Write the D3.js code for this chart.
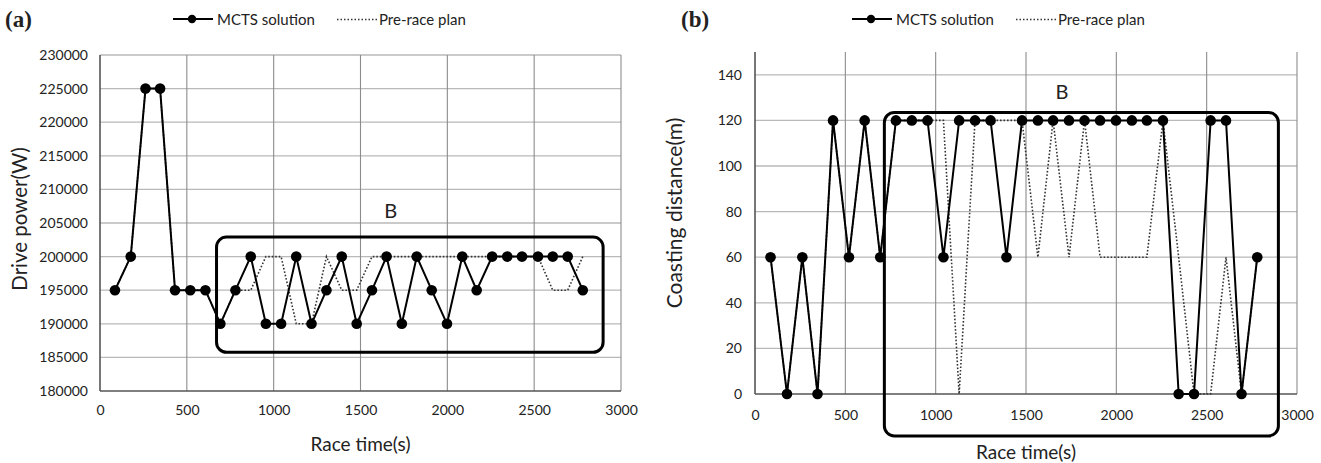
<!DOCTYPE html>
<html>
<head>
<meta charset="utf-8">
<script src="https://cdn.jsdelivr.net/npm/d3@7"></script>
<style>
  html, body { margin: 0; padding: 0; background: #fff; }
  svg { display: block; }
  text { font-family: Lato, "Open Sans", sans-serif; fill: #222; }
</style>
</head>
<body>
<svg id="chart" width="1321" height="463"></svg>
<script>
// Segment end times shared by both panels (s)
const raceTimes = [86, 177, 262, 346, 432, 520, 607, 693, 780, 868, 955, 1043, 1130, 1218, 1304, 1392,
                   1478, 1566, 1650, 1738, 1824, 1910, 1998, 2086, 2169, 2258, 2345, 2430, 2522, 2607, 2693, 2780];

// (a) drive power per segment (W)
const powerMcts = [195000, 200000, 225000, 225000, 195000, 195000, 195000, 190000, 195000, 200000, 190000,
                   190000, 200000, 190000, 195000, 200000, 190000, 195000, 200000, 190000, 200000, 195000,
                   190000, 200000, 195000, 200000, 200000, 200000, 200000, 200000, 200000, 195000];
const powerPlan = [195000, 200000, 225000, 225000, 195000, 195000, 195000, 190000, 195000, 195000, 200000,
                   200000, 190000, 190000, 200000, 195000, 195000, 200000, 200000, 200000, 200000, 200000,
                   200000, 200000, 200000, 200000, 200000, 200000, 200000, 195000, 195000, 200000];

// (b) coasting distance per segment (m)
const coastMcts = [60, 0, 60, 0, 120, 60, 120, 60, 120, 120, 120, 60, 120, 120, 120, 60,
                   120, 120, 120, 120, 120, 120, 120, 120, 120, 120, 0, 0, 120, 120, 0, 60];
const coastPlan = [60, 0, 60, 0, 120, 60, 120, 60, 120, 120, 120, 120, 0, 120, 120, 120,
                   120, 60, 120, 60, 120, 60, 60, 60, 60, 120, 60, 0, 0, 60, 0, 60];

// Axis ticks
const timeTicks = [0, 500, 1000, 1500, 2000, 2500, 3000];
const powerTicks = [180000, 185000, 190000, 195000, 200000, 205000, 210000, 215000, 220000, 225000, 230000];
const coastTicks = [0, 20, 40, 60, 80, 100, 120, 140];

// Highlighted region "B": [t0, t1, yLow, yHigh]
const powerRegionB = [671, 2897, 185750, 202900];
const coastRegionB = [716, 2897, -18.4, 123.5];
const powerLabelB = [1674, 207000];
const coastLabelB = [1699, 132.7];

const seriesNames = ["MCTS solution", "Pre-race plan"];

const svg = d3.select("#chart");

function drawPanel(cfg) {
  const g = svg.append("g");
  const x = d3.scaleLinear().domain([0, 3000]).range(cfg.xRange);
  const y = d3.scaleLinear().domain(cfg.yDomain).range(cfg.yRange);
  const [x0, x1] = cfg.xRange;
  const [yb] = cfg.yRange;

  // horizontal grid
  g.append("g").selectAll("line").data(cfg.yTicks.filter(v => v !== cfg.yDomain[0])).join("line")
    .attr("x1", x0).attr("x2", x1)
    .attr("y1", d => y(d)).attr("y2", d => y(d))
    .attr("stroke", "#b9b9b9").attr("stroke-width", 1.3);

  // vertical grid
  g.append("g").selectAll("line").data(timeTicks.filter(v => v > 0)).join("line")
    .attr("x1", d => x(d)).attr("x2", d => x(d))
    .attr("y1", yb).attr("y2", cfg.gridTop)
    .attr("stroke", "#8c8c8c").attr("stroke-width", 1.1);

  // tick labels from d3 axis generators
  const xAxis = g.append("g").attr("transform", `translate(0,${yb})`)
    .call(d3.axisBottom(x).tickValues(timeTicks).tickSize(0).tickPadding(cfg.xPad).tickFormat(d3.format("d")));
  const yAxis = g.append("g").attr("transform", `translate(${x0},0)`)
    .call(d3.axisLeft(y).tickValues(cfg.yTicks).tickSize(0).tickPadding(cfg.yPad).tickFormat(d3.format("d")));
  [xAxis, yAxis].forEach(a => {
    a.select(".domain").remove();
    a.selectAll("text").style("font-family", "Lato, sans-serif").style("font-size", "14px").attr("fill", "#333");
  });

  // axis lines
  g.append("line").attr("x1", x0).attr("x2", x1).attr("y1", yb).attr("y2", yb)
    .attr("stroke", "#555").attr("stroke-width", 1.6);
  g.append("line").attr("x1", x0).attr("x2", x0).attr("y1", yb).attr("y2", cfg.gridTop)
    .attr("stroke", "#555").attr("stroke-width", 1.6);

  // pre-race plan (dotted)
  const line = d3.line().x((d, i) => x(raceTimes[i])).y(d => y(d));
  g.append("path").attr("d", line(cfg.plan))
    .attr("fill", "none").attr("stroke", "#333").attr("stroke-width", 1.6)
    .attr("stroke-dasharray", "1.6,1.9");

  // MCTS solution
  g.append("path").attr("d", line(cfg.mcts))
    .attr("fill", "none").attr("stroke", "#000").attr("stroke-width", 2);
  g.append("g").selectAll("circle").data(cfg.mcts).join("circle")
    .attr("cx", (d, i) => x(raceTimes[i])).attr("cy", d => y(d)).attr("r", 5.3).attr("fill", "#000");

  // region B
  const [t0, t1, lo, hi] = cfg.region;
  g.append("rect")
    .attr("x", x(t0)).attr("y", y(hi))
    .attr("width", x(t1) - x(t0)).attr("height", y(lo) - y(hi))
    .attr("rx", 10).attr("ry", 10)
    .attr("fill", "none").attr("stroke", "#000").attr("stroke-width", 3);
  g.append("text").attr("x", x(cfg.labelB[0])).attr("y", y(cfg.labelB[1]))
    .attr("text-anchor", "middle").attr("dominant-baseline", "central")
    .style("font-size", "20px").attr("fill", "#111").text("B");

  // axis titles
  g.append("text").attr("x", (x0 + x1) / 2).attr("y", cfg.xTitleY)
    .attr("text-anchor", "middle").attr("dominant-baseline", "central")
    .style("font-size", "19px").text("Race time(s)");
  g.append("text")
    .attr("transform", `translate(${cfg.yTitleX},${cfg.yTitleY}) rotate(-90)`)
    .attr("text-anchor", "middle").attr("dominant-baseline", "central")
    .style("font-size", cfg.yTitleSize).text(cfg.yTitle);

  // panel tag
  g.append("text").attr("x", cfg.tagX).attr("y", 27)
    .style("font-family", "'Liberation Serif', 'DejaVu Serif', serif").style("font-weight", "bold")
    .style("font-size", "23px").attr("fill", "#000").text(cfg.tag);

  // legend
  const lg = g.append("g").attr("transform", `translate(${cfg.legendX},19)`);
  lg.append("line").attr("x1", 0).attr("x2", 40).attr("y1", 0).attr("y2", 0)
    .attr("stroke", "#000").attr("stroke-width", 2.2);
  lg.append("circle").attr("cx", 19).attr("cy", 0).attr("r", 4.2).attr("fill", "#000");
  lg.append("text").attr("x", 44).attr("y", 0).attr("dominant-baseline", "central")
    .style("font-size", "15px").text(seriesNames[0]);
  lg.append("line").attr("x1", 164).attr("x2", 204).attr("y1", 0.5).attr("y2", 0.5)
    .attr("stroke", "#333").attr("stroke-width", 1.4).attr("stroke-dasharray", "1.5,2");
  lg.append("text").attr("x", 206).attr("y", 0).attr("dominant-baseline", "central")
    .style("font-size", "15px").text(seriesNames[1]);
}

drawPanel({
  xRange: [100, 621], yDomain: [180000, 230000], yRange: [391, 55], gridTop: 55,
  yTicks: powerTicks, mcts: powerMcts, plan: powerPlan,
  region: powerRegionB, labelB: powerLabelB,
  xPad: 14, yPad: 12, xTitleY: 443, yTitleX: 19, yTitleY: 219, yTitleSize: "20.5px",
  yTitle: "Drive power(W)", tag: "(a)", tagX: 5, legendX: 173
});

drawPanel({
  xRange: [755, 1297], yDomain: [0, 150], yRange: [394, 52], gridTop: 52,
  yTicks: coastTicks, mcts: coastMcts, plan: coastPlan,
  region: coastRegionB, labelB: coastLabelB,
  xPad: 16, yPad: 13, xTitleY: 451, yTitleX: 673, yTitleY: 213, yTitleSize: "21px",
  yTitle: "Coasting distance(m)", tag: "(b)", tagX: 681, legendX: 852
});
</script>
</body>
</html>
